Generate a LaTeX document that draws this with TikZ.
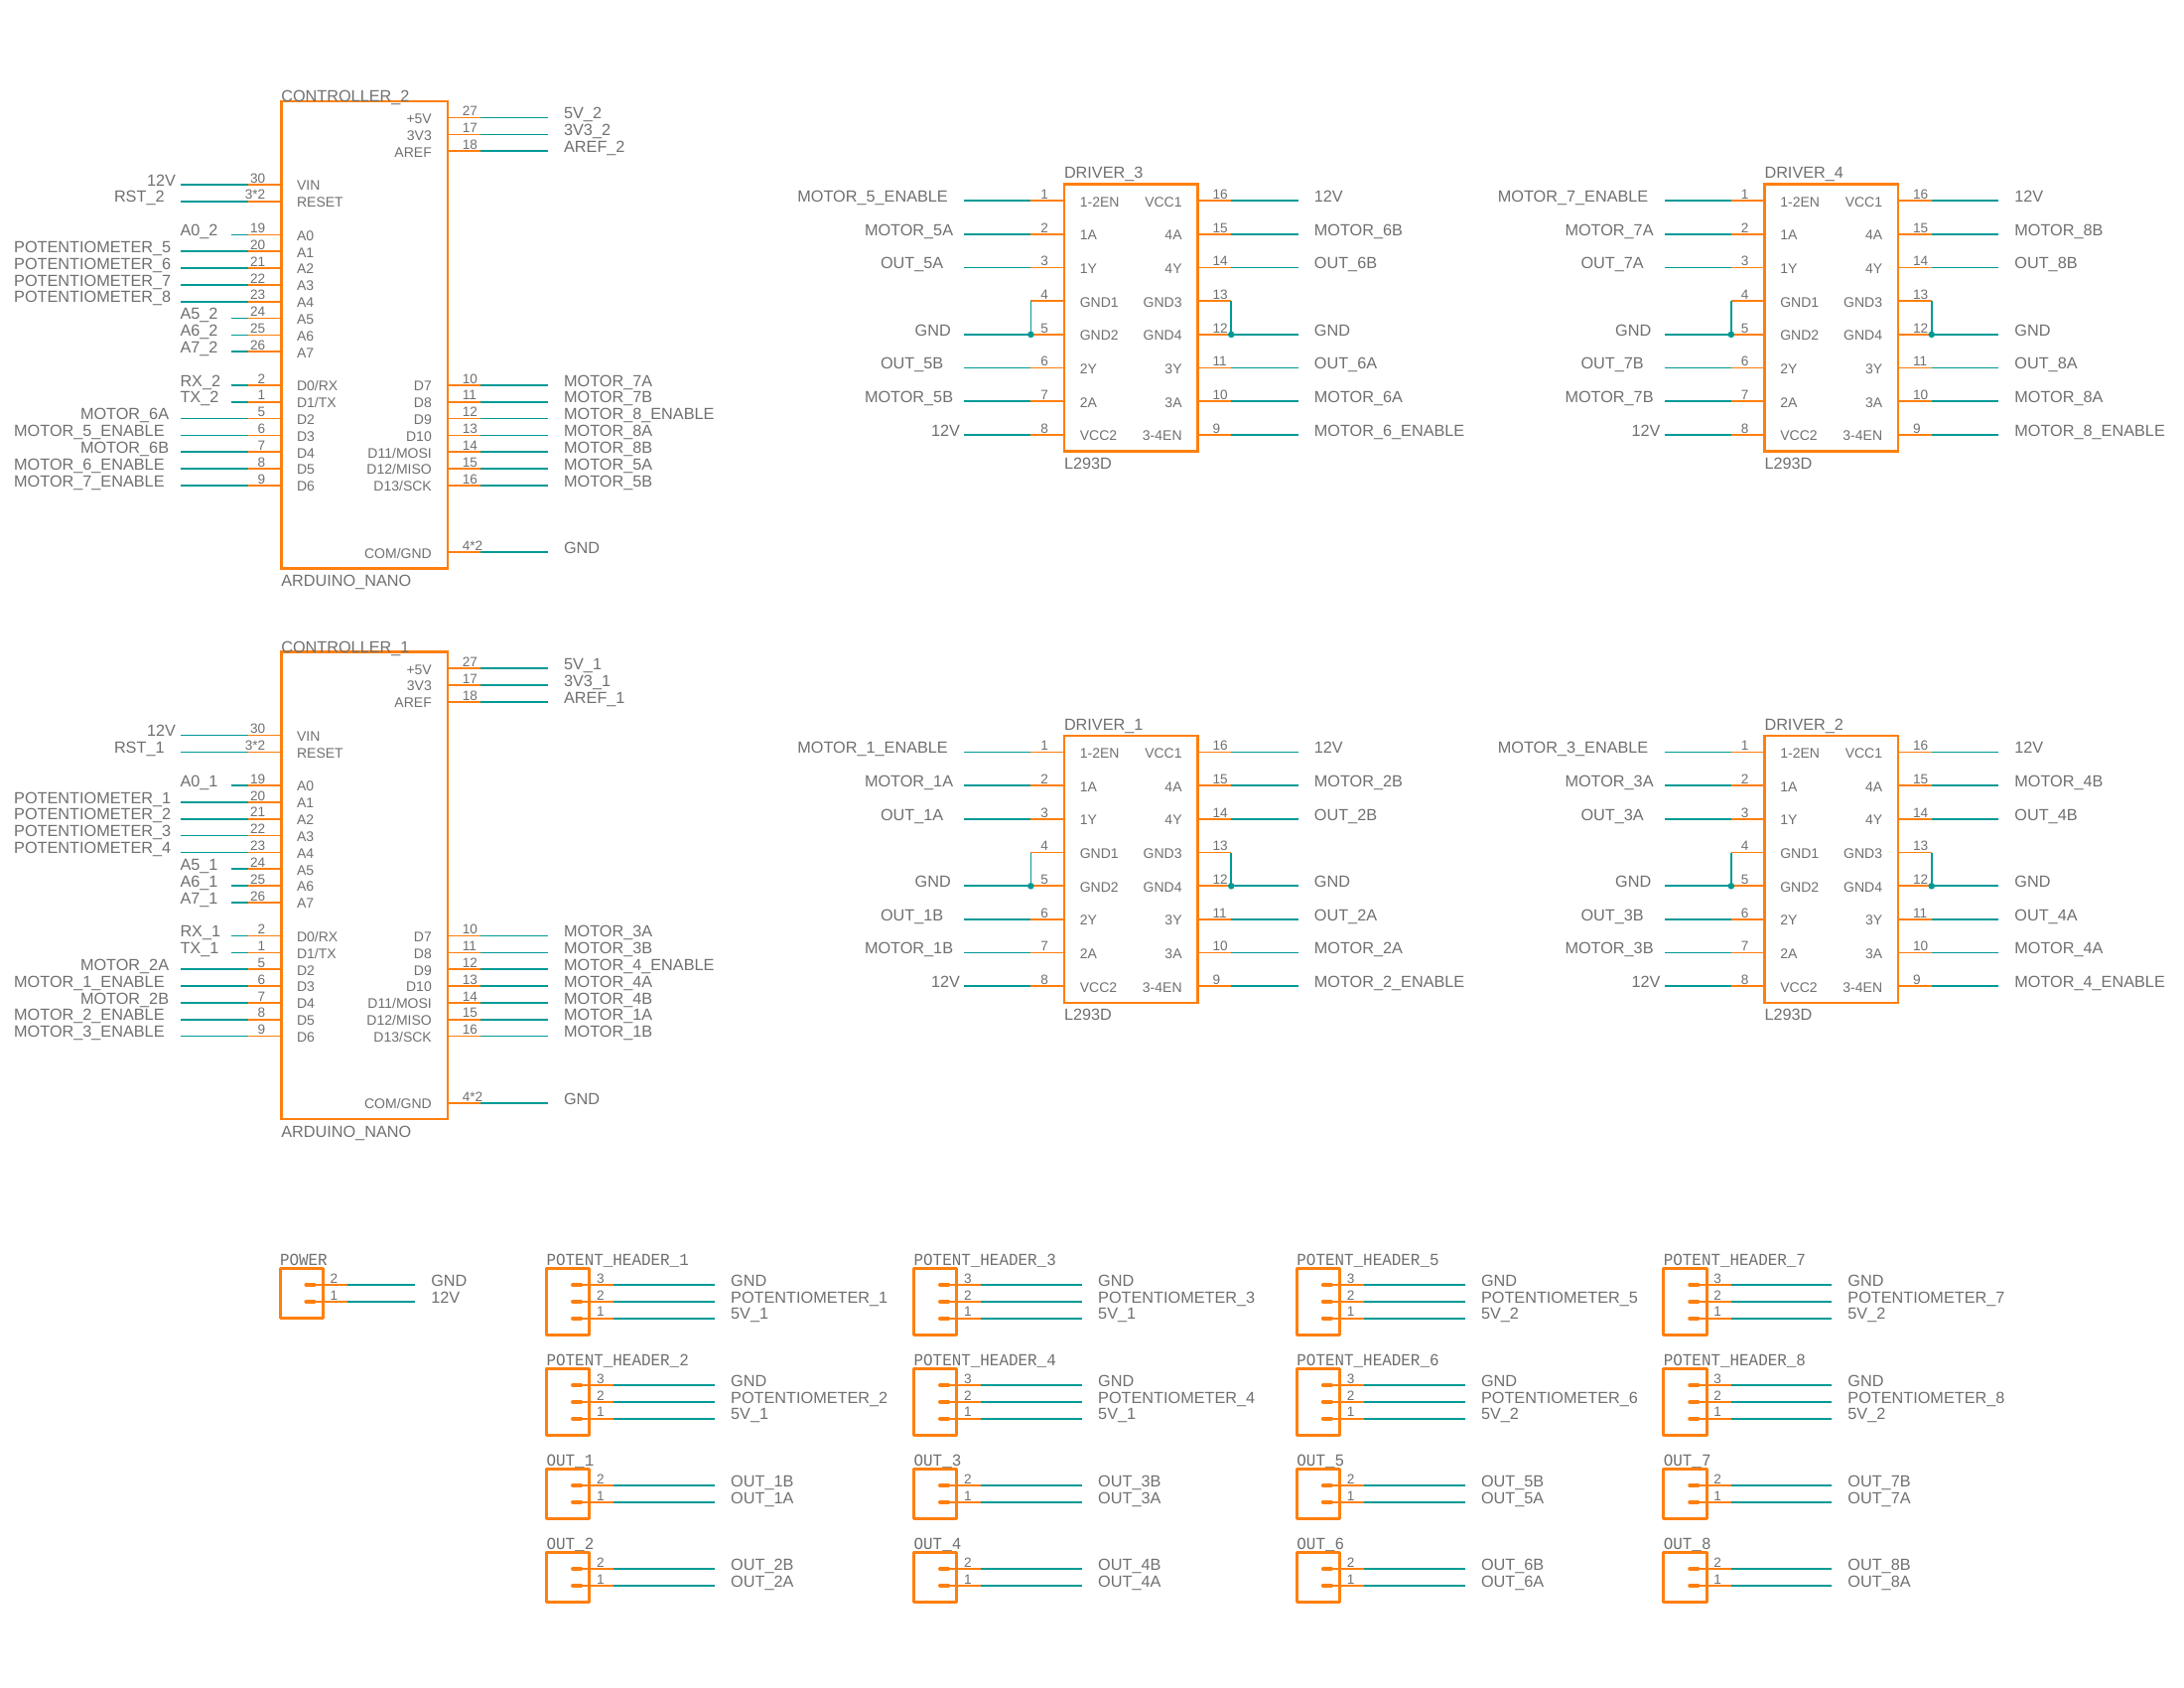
\documentclass[tikz,border=0pt]{standalone}
\usepackage{fontspec}
\setmainfont{Liberation Sans}
\newfontfamily\monof[FakeStretch=0.936]{Liberation Mono}
\catcode`\_=12
\definecolor{sym}{HTML}{FF7F0E}
\definecolor{net}{HTML}{009A96}
\definecolor{txt}{HTML}{707070}
\tikzset{
  wire/.style={draw=net,line width=0.85pt},
  pinl/.style={draw=sym,line width=0.85pt},
  body/.style={draw=sym,line width=1.25pt},
  hbody/.style={draw=sym,line width=1.5pt,line join=round},
  pad/.style={draw=sym,line width=2.1pt,line cap=round},
  jun/.style={fill=net,draw=none},
  lab/.style={inner sep=0pt,outer sep=0pt,text=txt,font=\fontsize{8.125pt}{10pt}\selectfont},
  pnum/.style={inner sep=0pt,outer sep=0pt,text=txt,font=\fontsize{6.8pt}{8pt}\selectfont},
  pnam/.style={inner sep=0pt,outer sep=0pt,text=txt,font=\fontsize{7pt}{8pt}\selectfont},
  mono/.style={inner sep=0pt,outer sep=0pt,text=txt,font=\monof\fontsize{8.5pt}{10pt}\selectfont},
}
% comp, boxX, boxY, row units, wire length px, num, pin name, net, label x
\newcommand\pinL[9]{%
  \pgfmathsetmacro\yy{#3+#4*1.6833}%
  \pgfmathsetmacro\xk{#2-33.66}%
  \pgfmathsetmacro\xe{#2-#5}%
  \coordinate (#1-#6-b) at (#2,\yy);
  \coordinate (#1-#6-k) at (\xk,\yy);
  \coordinate (#1-#6-e) at (\xe,\yy);
  \draw[wire] (#1-#6-k) -- (#1-#6-e);
  \draw[pinl] (#1-#6-b) -- (#1-#6-k);
  \node[pnum,anchor=base east] (#1-#6-no) at (#2-16,\yy-1.8) {#6};
  \node[pnam,anchor=base west] (#1-#6-na) at (#2+15.8,\yy+5.8) {#7};
  \node[lab,anchor=base west] (#1-#6-la) at (#9,\yy+1.2) {#8};
}
% comp, boxXright, boxY, row units, wire length px, num, pin name, net
\newcommand\pinR[8]{%
  \pgfmathsetmacro\yy{#3+#4*1.6833}%
  \pgfmathsetmacro\xk{#2+33.66}%
  \pgfmathsetmacro\xe{#2+#5}%
  \coordinate (#1-#6-b) at (#2,\yy);
  \coordinate (#1-#6-k) at (\xk,\yy);
  \coordinate (#1-#6-e) at (\xe,\yy);
  \draw[wire] (#1-#6-k) -- (#1-#6-e);
  \draw[pinl] (#1-#6-b) -- (#1-#6-k);
  \node[pnum,anchor=base west] (#1-#6-no) at (#2+15,\yy-1.8) {#6};
  \node[pnam,anchor=base east] (#1-#6-na) at (#2-16,\yy+5.8) {#7};
  \node[lab,anchor=base west] (#1-#6-la) at (#2+#5+16.3,\yy+1.2) {#8};
}
% id, Y, suffix, a,b,c,d
\newcommand\ctrl[7]{%
  \def\X{283.3}\def\XR{450.8}%
  \def\LL{101}\def\LS{50.5}%
  \pinL{#1}{\X}{#2}{50}{\LL}{30}{VIN}{12V}{148}
  \pinL{#1}{\X}{#2}{60}{\LL}{3*2}{RESET}{RST_#3}{115}
  \pinL{#1}{\X}{#2}{80}{\LS}{19}{A0}{A0_#3}{181.5}
  \pinL{#1}{\X}{#2}{90}{\LL}{20}{A1}{POTENTIOMETER_#4}{14.2}
  \pinL{#1}{\X}{#2}{100}{\LL}{21}{A2}{POTENTIOMETER_#5}{14.2}
  \pinL{#1}{\X}{#2}{110}{\LL}{22}{A3}{POTENTIOMETER_#6}{14.2}
  \pinL{#1}{\X}{#2}{120}{\LL}{23}{A4}{POTENTIOMETER_#7}{14.2}
  \pinL{#1}{\X}{#2}{130}{\LS}{24}{A5}{A5_#3}{181.5}
  \pinL{#1}{\X}{#2}{140}{\LS}{25}{A6}{A6_#3}{181.5}
  \pinL{#1}{\X}{#2}{150}{\LS}{26}{A7}{A7_#3}{181.5}
  \pinL{#1}{\X}{#2}{170}{\LS}{2}{D0/RX}{RX_#3}{181.5}
  \pinL{#1}{\X}{#2}{180}{\LS}{1}{D1/TX}{TX_#3}{181.5}
  \pinL{#1}{\X}{#2}{190}{\LL}{5}{D2}{MOTOR_#5A}{81}
  \pinL{#1}{\X}{#2}{200}{\LL}{6}{D3}{MOTOR_#4_ENABLE}{14.2}
  \pinL{#1}{\X}{#2}{210}{\LL}{7}{D4}{MOTOR_#5B}{81}
  \pinL{#1}{\X}{#2}{220}{\LL}{8}{D5}{MOTOR_#5_ENABLE}{14.2}
  \pinL{#1}{\X}{#2}{230}{\LL}{9}{D6}{MOTOR_#6_ENABLE}{14.2}
  \pinR{#1}{\XR}{#2}{10}{\LL}{27}{+5V}{5V_#3}
  \pinR{#1}{\XR}{#2}{20}{\LL}{17}{3V3}{3V3_#3}
  \pinR{#1}{\XR}{#2}{30}{\LL}{18}{AREF}{AREF_#3}
  \pinR{#1}{\XR}{#2}{170}{\LL}{10}{D7}{MOTOR_#6A}
  \pinR{#1}{\XR}{#2}{180}{\LL}{11}{D8}{MOTOR_#6B}
  \pinR{#1}{\XR}{#2}{190}{\LL}{12}{D9}{MOTOR_#7_ENABLE}
  \pinR{#1}{\XR}{#2}{200}{\LL}{13}{D10}{MOTOR_#7A}
  \pinR{#1}{\XR}{#2}{210}{\LL}{14}{D11/MOSI}{MOTOR_#7B}
  \pinR{#1}{\XR}{#2}{220}{\LL}{15}{D12/MISO}{MOTOR_#4A}
  \pinR{#1}{\XR}{#2}{230}{\LL}{16}{D13/SCK}{MOTOR_#4B}
  \pinR{#1}{\XR}{#2}{270}{\LL}{4*2}{COM/GND}{GND}
  \pgfmathsetmacro\yb{#2+470.6}%
  \draw[body] (\X,#2) rectangle (\XR,\yb);
  \node[lab,anchor=base west] (#1-title) at (\X,#2+0.7) {CONTROLLER_#3};
  \node[lab,anchor=base west] (#1-type) at (\X,\yb+18) {ARDUINO_NANO};
}
% id, title, X, Y, a, b
\newcommand\drv[6]{%
  \pgfmathsetmacro\XR{#3+134.6}%
  \pgfmathsetmacro\yb{#4+269.3}%
  \edef\XL{#3}%
  \pgfmathsetmacro\xm{#3-268.6}\let\xEN\xm
  \pgfmathsetmacro\xma{#3-201}\let\xMO\xma
  \pgfmathsetmacro\xmb{#3-185}\let\xOU\xmb
  \pgfmathsetmacro\xmc{#3-150.3}\let\xGN\xmc
  \pgfmathsetmacro\xmd{#3-134}\let\xTW\xmd
  \pinL{#1}{\XL}{#4}{10}{101}{1}{1-2EN}{MOTOR_#5_ENABLE}{\xEN}
  \pinL{#1}{\XL}{#4}{30}{101}{2}{1A}{MOTOR_#5A}{\xMO}
  \pinL{#1}{\XL}{#4}{50}{101}{3}{1Y}{OUT_#5A}{\xOU}
  \pinL{#1}{\XL}{#4}{70}{33.66}{4}{GND1}{}{\xGN}
  \pinL{#1}{\XL}{#4}{90}{101}{5}{GND2}{GND}{\xGN}
  \pinL{#1}{\XL}{#4}{110}{101}{6}{2Y}{OUT_#5B}{\xOU}
  \pinL{#1}{\XL}{#4}{130}{101}{7}{2A}{MOTOR_#5B}{\xMO}
  \pinL{#1}{\XL}{#4}{150}{101}{8}{VCC2}{12V}{\xTW}
  \pinR{#1}{\XR}{#4}{10}{101}{16}{VCC1}{12V}
  \pinR{#1}{\XR}{#4}{30}{101}{15}{4A}{MOTOR_#6B}
  \pinR{#1}{\XR}{#4}{50}{101}{14}{4Y}{OUT_#6B}
  \pinR{#1}{\XR}{#4}{70}{33.66}{13}{GND3}{}
  \pinR{#1}{\XR}{#4}{90}{101}{12}{GND4}{GND}
  \pinR{#1}{\XR}{#4}{110}{101}{11}{3Y}{OUT_#6A}
  \pinR{#1}{\XR}{#4}{130}{101}{10}{3A}{MOTOR_#6A}
  \pinR{#1}{\XR}{#4}{150}{101}{9}{3-4EN}{MOTOR_#6_ENABLE}
  \draw[wire] (#1-4-k) -- (#1-5-k);
  \draw[wire] (#1-13-k) -- (#1-12-k);
  \fill[jun] (#1-5-k) circle (3.3);
  \fill[jun] (#1-12-k) circle (3.3);
  \draw[body] (\XL,#4) rectangle (\XR,\yb);
  \node[lab,anchor=base west] (#1-title) at (\XL,#4-5.8) {#2};
  \node[lab,anchor=base west] (#1-type) at (\XL,\yb+17.6) {L293D};
}
% id, title, X, Y, height units
\newcommand\hdr[5]{%
  \pgfmathsetmacro\yb{#4+#5*1.6833}%
  \node[mono,anchor=base west] (#1-title) at (#3,#4-3) {#2};
  \draw[hbody] (#3,#4) rectangle (#3+43.2,\yb);
}
% id, X, Y, row units, wire end offset, num, net
\newcommand\hpin[7]{%
  \pgfmathsetmacro\yy{#3+#4*1.6833}%
  \coordinate (#1-#6-p) at (#2+30.5,\yy);
  \coordinate (#1-#6-k) at (#2+67.7,\yy);
  \coordinate (#1-#6-e) at (#2+#5,\yy);
  \coordinate (#1-#6-pl) at (#2+26.5,\yy);
  \coordinate (#1-#6-pr) at (#2+34.5,\yy);
  \draw[wire] (#1-#6-k) -- (#1-#6-e);
  \draw[pinl] (#1-#6-p) -- (#1-#6-k);
  \draw[pad] (#1-#6-pl) -- (#1-#6-pr);
  \node[pnum,anchor=base west] (#1-#6-no) at (#2+50.5,\yy-1.8) {#6};
  \node[lab,anchor=base west] (#1-#6-la) at (#2+#5+16.3,\yy+1.2) {#7};
}
\newcommand\pot[4]{%
  \hdr{PH#1}{POTENT_HEADER_#1}{#2}{#3}{40}
  \hpin{PH#1}{#2}{#3}{10}{169.3}{3}{GND}
  \hpin{PH#1}{#2}{#3}{20}{169.3}{2}{POTENTIOMETER_#1}
  \hpin{PH#1}{#2}{#3}{30}{169.3}{1}{5V_#4}
}
\newcommand\outh[3]{%
  \hdr{OH#1}{OUT_#1}{#2}{#3}{30}
  \hpin{OH#1}{#2}{#3}{10}{169.3}{2}{OUT_#1B}
  \hpin{OH#1}{#2}{#3}{20}{169.3}{1}{OUT_#1A}
}
\begin{document}
\begin{tikzpicture}[x=0.5pt,y=-0.5pt]
\useasboundingbox (0,0) rectangle (2200,1700);
\fill[white] (0,0) rectangle (2200,1700);
\ctrl{C2}{101.8}{2}{5}{6}{7}{8}
\ctrl{C1}{656.4}{1}{1}{2}{3}{4}
\drv{D3}{DRIVER_3}{1072}{185.4}{5}{6}
\drv{D4}{DRIVER_4}{1777.5}{185.4}{7}{8}
\drv{D1}{DRIVER_1}{1072}{740.8}{1}{2}
\drv{D2}{DRIVER_2}{1777.5}{740.8}{3}{4}
\hdr{PW}{POWER}{282}{1277.2}{30}
\hpin{PW}{282}{1277.2}{10}{136}{2}{GND}
\hpin{PW}{282}{1277.2}{20}{136}{1}{12V}
\pot{1}{550.6}{1277.2}{1}
\pot{2}{550.6}{1378.2}{1}
\outh{1}{550.6}{1479.2}
\outh{2}{550.6}{1563.2}
\pot{3}{920.6}{1277.2}{1}
\pot{4}{920.6}{1378.2}{1}
\outh{3}{920.6}{1479.2}
\outh{4}{920.6}{1563.2}
\pot{5}{1306.4}{1277.2}{2}
\pot{6}{1306.4}{1378.2}{2}
\outh{5}{1306.4}{1479.2}
\outh{6}{1306.4}{1563.2}
\pot{7}{1675.8}{1277.2}{2}
\pot{8}{1675.8}{1378.2}{2}
\outh{7}{1675.8}{1479.2}
\outh{8}{1675.8}{1563.2}
\end{tikzpicture}
\end{document}
